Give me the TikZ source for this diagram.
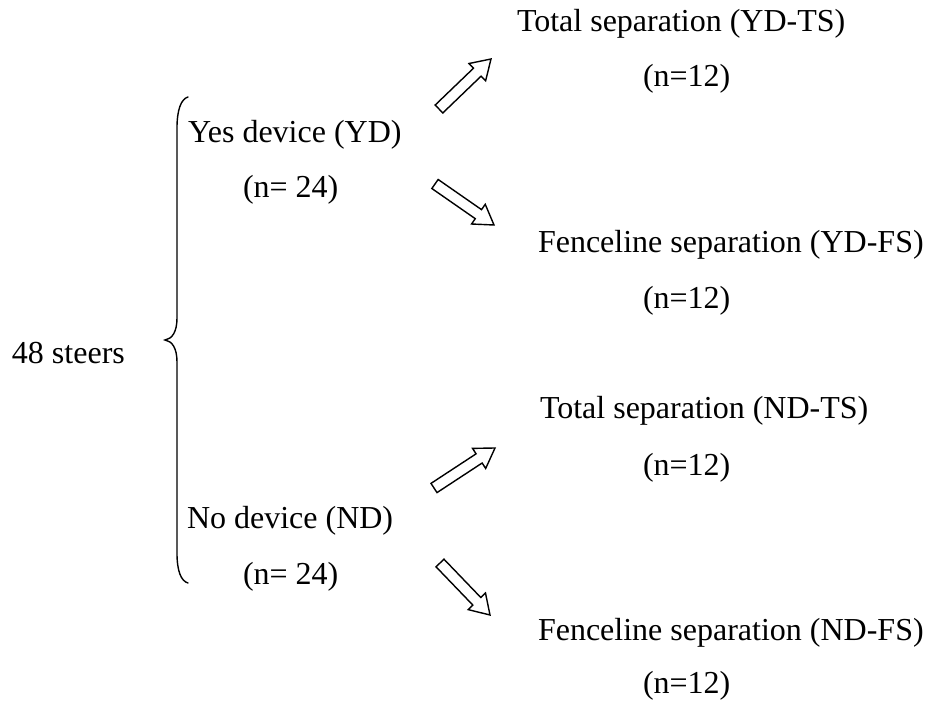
\documentclass[tikz,border=0pt]{standalone}
\usepackage{fontspec}
\setmainfont{Liberation Serif}
\usetikzlibrary{calc}
\tikzset{
  lbl/.style={anchor=base west, inner sep=0pt, outer sep=0pt, font=\fontsize{32}{38}\selectfont},
  blockarrow/.style={draw=black, fill=white, line width=1.4pt, line join=miter},
  bracestyle/.style={draw=black, line width=1.4pt, line cap=round}
}
\newcommand{\blkarrow}[2]{%
  \coordinate (#1-b) at ($(#2)!19pt!(#1)$);
  \draw[blockarrow] ($(#1)!5.5pt!90:(#2)$) -- ($(#1-b)!5.5pt!90:(#2)$) -- ($(#1-b)!12pt!90:(#2)$) -- (#2)
    -- ($(#1-b)!12pt!-90:(#2)$) -- ($(#1-b)!5.5pt!-90:(#2)$) -- ($(#1)!5.5pt!-90:(#2)$) -- cycle;}
\begin{document}
\begin{tikzpicture}[x=1pt,y=-1pt]
\useasboundingbox (0,0) rectangle (930,706);
% texts
\node[lbl] (steers) at (12,363) {48 steers};
\node[lbl] (yd) at (188,143) {Yes device (YD)};
\node[lbl] (ydn) at (243,197) {(n= 24)};
\node[lbl] (nd) at (187,528) {No device (ND)};
\node[lbl] (ndn) at (243,584) {(n= 24)};
\node[lbl] (ydts) at (517,32) {Total separation (YD-TS)};
\node[lbl] (ydtsn) at (643,87) {(n=12)};
\node[lbl] (ydfs) at (538,253) {Fenceline separation (YD-FS)};
\node[lbl] (ydfsn) at (643,308) {(n=12)};
\node[lbl] (ndts) at (540,418) {Total separation (ND-TS)};
\node[lbl] (ndtsn) at (643,475) {(n=12)};
\node[lbl] (ndfs) at (538,640) {Fenceline separation (ND-FS)};
\node[lbl] (ndfsn) at (643,693) {(n=12)};
% brace
\draw[bracestyle] (188,97) .. controls (181,99) and (177,110) .. (177,128)
  -- (177,318) .. controls (177,332) and (172,339) .. (165,340)
  .. controls (172,341) and (177,348) .. (177,362)
  -- (177,553) .. controls (177,571) and (181,581) .. (188,583);
% arrow ends
\coordinate (a1t) at (439,109);
\coordinate (a1h) at (491,59);
\coordinate (a2t) at (435,184);
\coordinate (a2h) at (494,225);
\coordinate (a3t) at (434,488);
\coordinate (a3h) at (495,448);
\coordinate (a4t) at (440,563);
\coordinate (a4h) at (490,615);
\blkarrow{a1t}{a1h}
\blkarrow{a2t}{a2h}
\blkarrow{a3t}{a3h}
\blkarrow{a4t}{a4h}
\end{tikzpicture}
\end{document}
